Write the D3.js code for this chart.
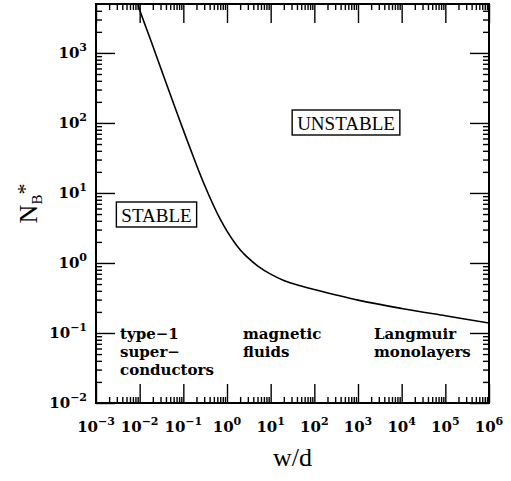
<!DOCTYPE html>
<html>
<head>
<meta charset="utf-8">
<script src="https://cdn.jsdelivr.net/npm/d3@7"></script>
<style>
  body { margin: 0; background: #fff; }
  svg { display: block; }
</style>
</head>
<body>
<svg id="chart" width="511" height="481"></svg>
<script>
// critical Bond number vs aspect ratio
var wd = [0.009, 0.01, 0.02, 0.05, 0.1, 0.2, 0.3, 0.5, 0.7, 1, 1.5, 2, 3, 5, 10, 20, 50, 100, 1e3, 1e4, 1e5, 1e6];
var nb = [5200, 4150, 1260, 257, 79, 25.1, 13.3, 6.46, 4.22, 2.85, 1.95, 1.55, 1.19, 0.912, 0.692, 0.562, 0.468, 0.417, 0.295, 0.224, 0.176, 0.139];

var xExps = [-3, -2, -1, 0, 1, 2, 3, 4, 5, 6];
var yExps = [-2, -1, 0, 1, 2, 3];

var regions = [
  {lines: ["type\u22121", "super\u2212", "conductors"], x: 120},
  {lines: ["magnetic", "fluids"], x: 243},
  {lines: ["Langmuir", "monolayers"], x: 374}
];
var boxes = [
  {text: "UNSTABLE", cx: 346, base: 130},
  {text: "STABLE", cx: 156.5, base: 222}
];

var svg = d3.select("#chart");
var pL = 96, pR = 489, pT = 4, pB = 403;

var x = d3.scaleLog().domain([1e-3, 1e6]).range([pL, pR]);
var y = d3.scaleLog().domain([1e-2, 5e3]).range([pB, pT]);

// minor tick values 2..9 per decade
function minors(scale) {
  var d = scale.domain(), out = [];
  var e0 = Math.floor(Math.log10(d[0])), e1 = Math.ceil(Math.log10(d[1]));
  for (var e = e0; e <= e1; e++) {
    for (var k = 2; k <= 9; k++) {
      var v = k * Math.pow(10, e);
      if (v > d[0] && v < d[1]) out.push(v);
    }
  }
  return out;
}
var xMajor = xExps.map(function(e){ return Math.pow(10, e); });
var yMajor = yExps.map(function(e){ return Math.pow(10, e); });

var MAJ = 19, MIN = 6;
function addAxis(axisFn, scale, vals, len, tx, ty) {
  var g = svg.append("g")
    .attr("transform", "translate(" + tx + "," + ty + ")")
    .call(axisFn(scale).tickValues(vals).tickSize(-len).tickFormat(""));
  g.select(".domain").remove();
  g.selectAll("line").attr("stroke", "#000").attr("stroke-width", 1.4);
}
[[d3.axisBottom, 0, pB], [d3.axisTop, 0, pT]].forEach(function(a){
  addAxis(a[0], x, xMajor, MAJ, a[1], a[2]);
  addAxis(a[0], x, minors(x), MIN, a[1], a[2]);
});
[[d3.axisLeft, pL, 0], [d3.axisRight, pR, 0]].forEach(function(a){
  addAxis(a[0], y, yMajor, MAJ, a[1], a[2]);
  addAxis(a[0], y, minors(y), MIN, a[1], a[2]);
});

// frame
svg.append("rect")
  .attr("x", pL).attr("y", pT)
  .attr("width", pR - pL).attr("height", pB - pT)
  .attr("fill", "none").attr("stroke", "#000").attr("stroke-width", 2);

// curve
svg.append("clipPath").attr("id", "clip")
  .append("rect").attr("x", pL).attr("y", pT)
  .attr("width", pR - pL).attr("height", pB - pT);

var line = d3.line()
  .x(function(d){ return x(d[0]); })
  .y(function(d){ return y(d[1]); })
  .curve(d3.curveCatmullRom.alpha(0.5));

svg.append("path")
  .datum(d3.zip(wd, nb))
  .attr("clip-path", "url(#clip)")
  .attr("d", line)
  .attr("fill", "none")
  .attr("stroke", "#000")
  .attr("stroke-width", 1.6);

// tick labels
var tickFont = "'DejaVu Serif', serif";
xExps.forEach(function(e){
  var t = svg.append("text")
    .attr("x", x(Math.pow(10, e))).attr("y", 432)
    .attr("text-anchor", "middle")
    .attr("font-family", tickFont).attr("font-size", 15).attr("font-weight", "bold");
  t.append("tspan").text("10");
  t.append("tspan").attr("dy", -7).attr("font-size", 11)
    .text(e < 0 ? "\u2212" + (-e) : e);
});
yExps.forEach(function(e){
  var t = svg.append("text")
    .attr("x", 87).attr("y", y(Math.pow(10, e)) + 5)
    .attr("text-anchor", "end")
    .attr("font-family", tickFont).attr("font-size", 15).attr("font-weight", "bold");
  t.append("tspan").text("10");
  t.append("tspan").attr("dy", -7).attr("font-size", 11)
    .text(e < 0 ? "\u2212" + (-e) : e);
});

// axis titles
svg.append("text")
  .attr("x", (pL + pR) / 2).attr("y", 466)
  .attr("text-anchor", "middle")
  .attr("font-family", "'Liberation Serif', serif").attr("font-size", 26)
  .text("w/d");

var yl = svg.append("text")
  .attr("transform", "translate(37," + ((pT + pB) / 2) + ") rotate(-90)")
  .attr("text-anchor", "middle")
  .attr("font-family", "'Liberation Serif', serif").attr("font-size", 26);
yl.append("tspan").text("N");
yl.append("tspan").attr("font-size", 15).attr("dy", 5).text("B");
yl.append("tspan").attr("font-size", 22).attr("dy", -10).text("*");

// boxed labels
boxes.forEach(function(b){
  var t = svg.append("text")
    .attr("x", b.cx).attr("y", b.base)
    .attr("text-anchor", "middle")
    .attr("font-family", "'Liberation Serif', serif").attr("font-size", 19)
    .text(b.text);
  var bb = t.node().getBBox();
  svg.append("rect")
    .attr("x", bb.x - 5).attr("y", b.base - 20)
    .attr("width", bb.width + 10).attr("height", 25)
    .attr("fill", "none").attr("stroke", "#000").attr("stroke-width", 1.4);
});

// application regions
regions.forEach(function(r){
  var t = svg.append("text")
    .attr("font-family", tickFont).attr("font-size", 15).attr("font-weight", "bold");
  r.lines.forEach(function(s, i){
    t.append("tspan").attr("x", r.x).attr("y", 339 + i * 18).text(s);
  });
});
</script>
</body>
</html>
